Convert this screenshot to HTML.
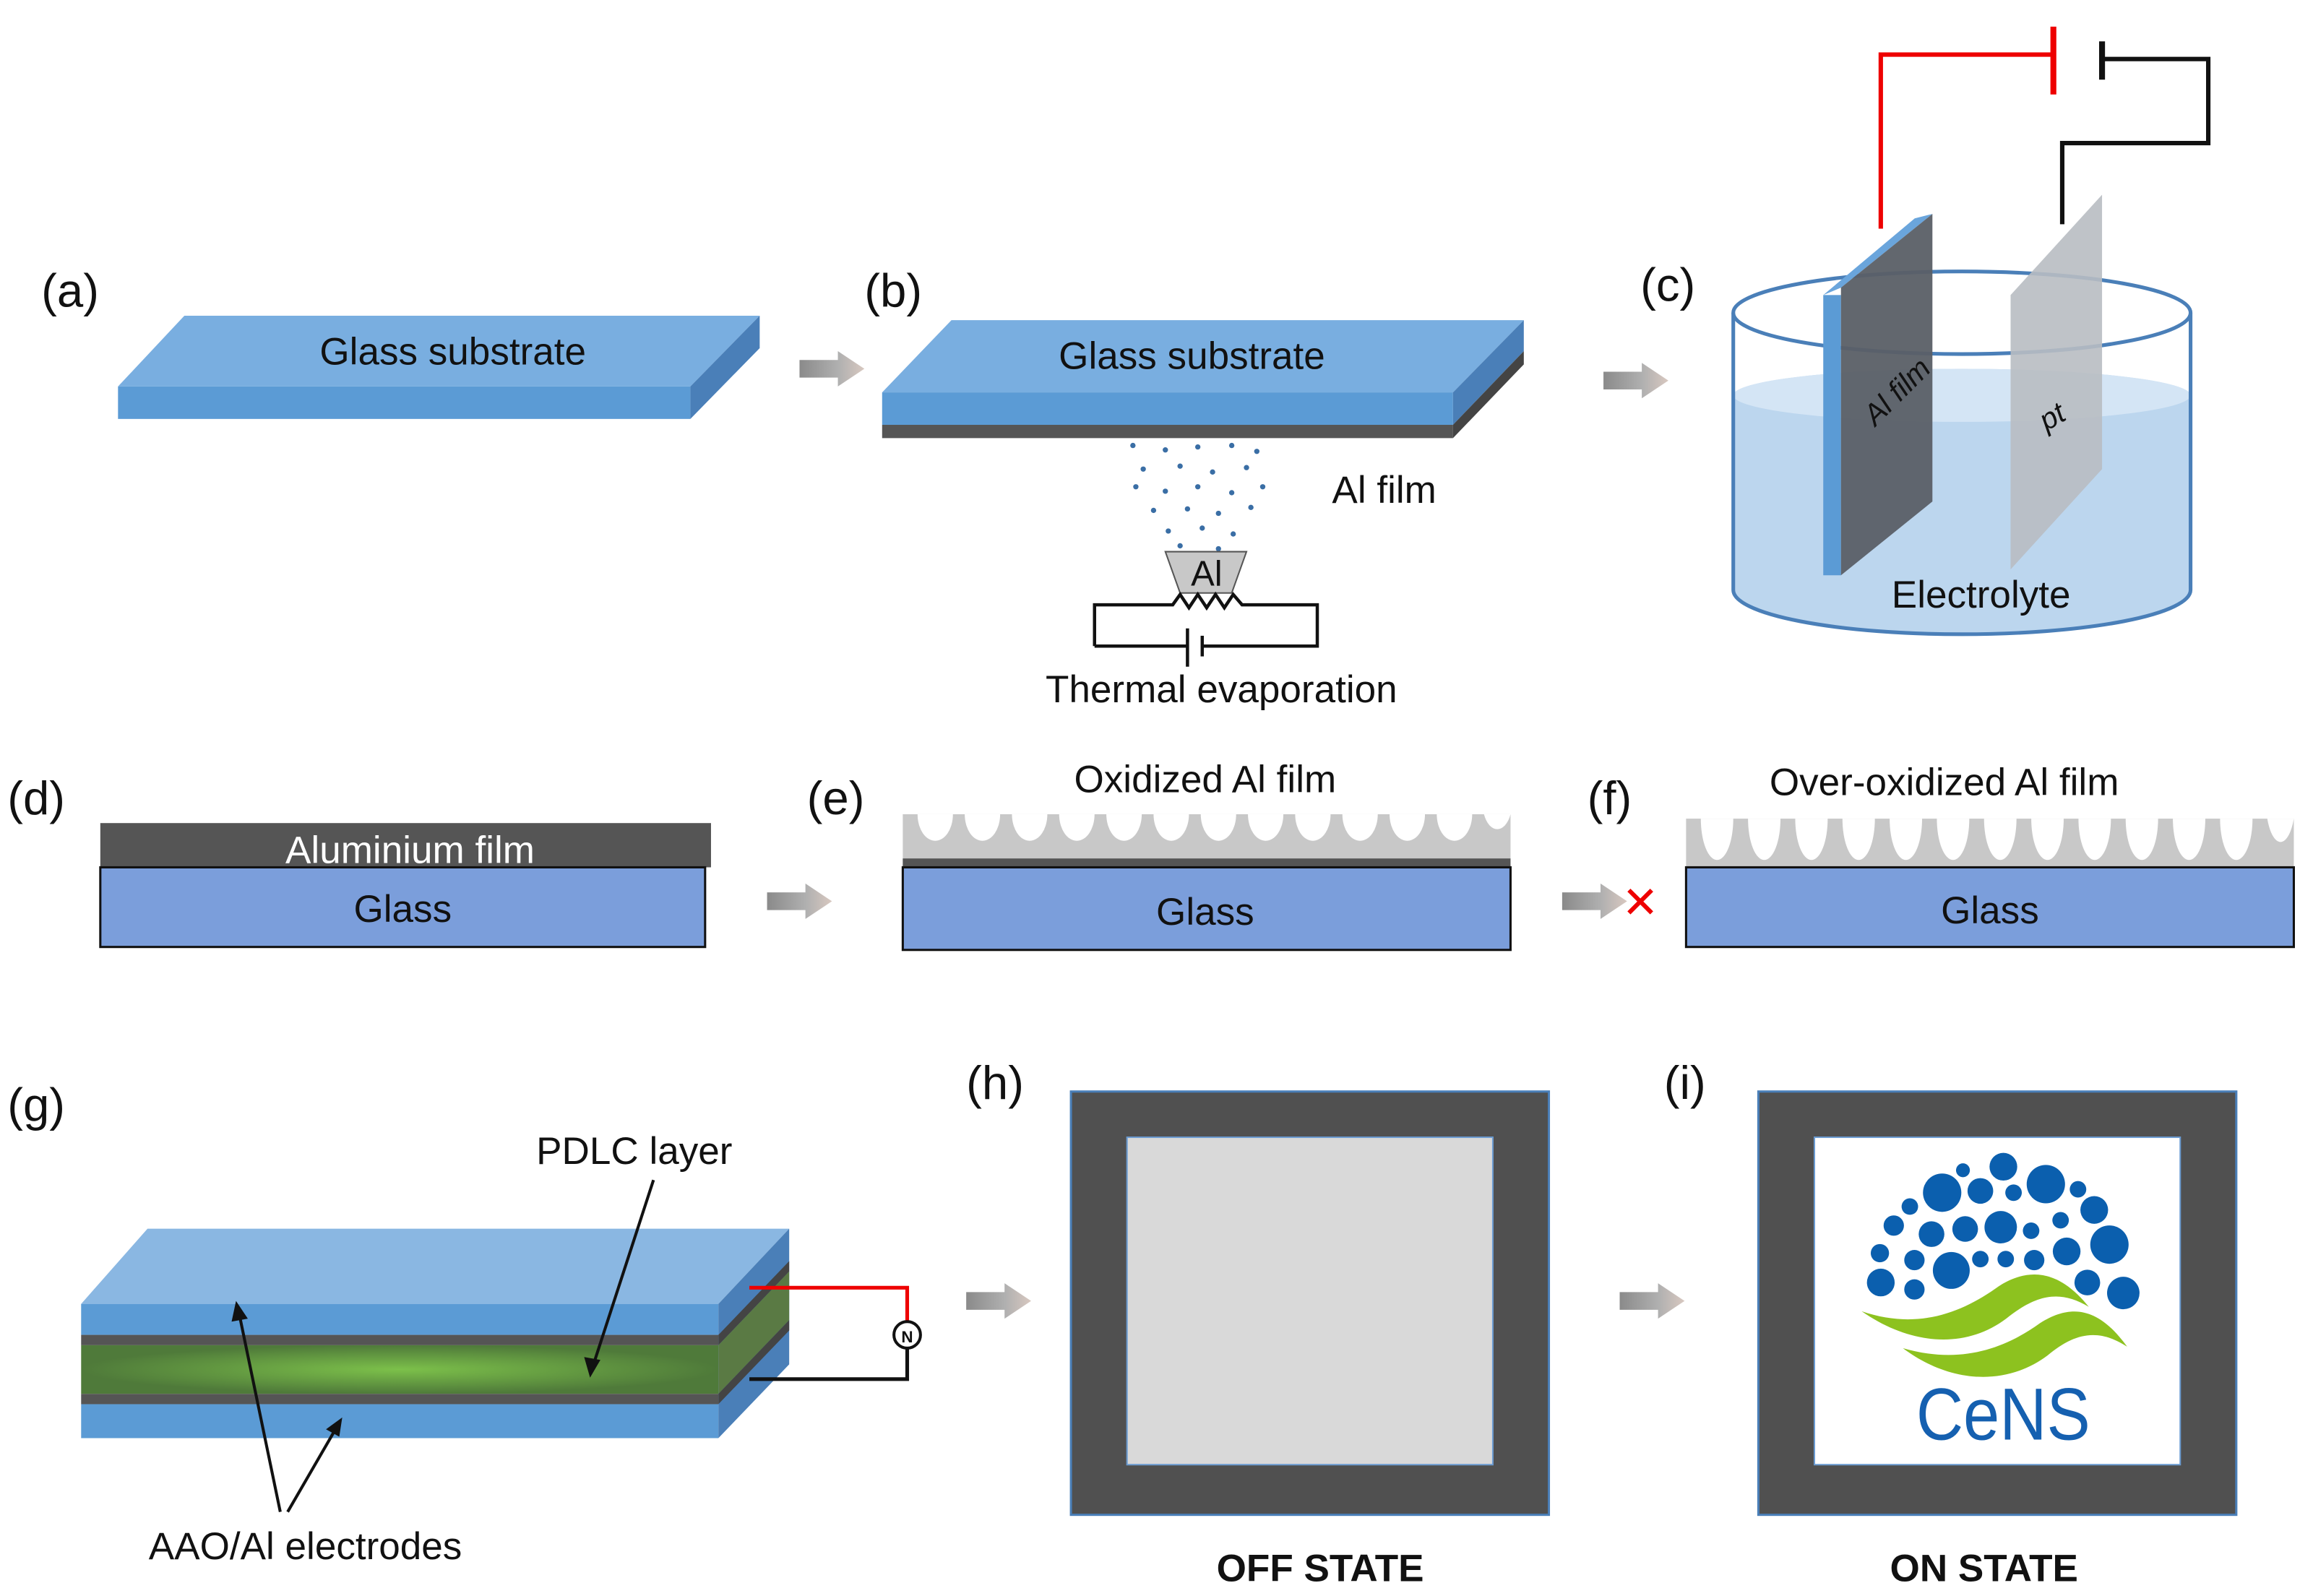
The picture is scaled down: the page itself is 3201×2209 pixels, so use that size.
<!DOCTYPE html>
<html><head><meta charset="utf-8"><style>html,body{margin:0;padding:0;background:#fff}svg{display:block}</style></head><body>
<svg width="3201" height="2209" viewBox="0 0 1568 1082" xmlns="http://www.w3.org/2000/svg" font-family="Liberation Sans, sans-serif">
<defs>
<linearGradient id="ar" x1="0" x2="1"><stop offset="0" stop-color="#8a8a8a"/><stop offset="0.6" stop-color="#b0b0b0"/><stop offset="1" stop-color="#d8c8c0"/></linearGradient>
<radialGradient id="gr" cx="0.5" cy="0.5" r="0.5"><stop offset="0" stop-color="#7cc04a"/><stop offset="1" stop-color="#4f7a3a"/></radialGradient>
<g id="arrow"><path d="M0,-6 L26,-6 L26,-12 L44,0 L26,12 L26,6 L0,6Z" fill="url(#ar)"/></g>
</defs>
<g font-size="27" fill="#111">
<g font-size="32">
<text x="28" y="208">(a)</text><text x="586" y="208">(b)</text><text x="1112" y="204">(c)</text>
<text x="5" y="552">(d)</text><text x="547" y="552">(e)</text><text x="1076" y="552">(f)</text>
<text x="5" y="760">(g)</text><text x="655" y="745">(h)</text><text x="1128" y="745">(i)</text>
</g>
<!-- (a) -->
<polygon points="80,262 125,214 515,214 468,262" fill="#79aee0"/>
<rect x="80" y="262" width="388" height="22" fill="#5b9bd5"/>
<polygon points="468,262 515,214 515,236 468,284" fill="#4a7fb8"/>
<text x="307" y="247" text-anchor="middle" font-size="26">Glass substrate</text>
<use href="#arrow" x="542" y="250"/>
<!-- (b) -->
<polygon points="598,266 645,217 1033,217 985,266" fill="#79aee0"/>
<rect x="598" y="266" width="387" height="22" fill="#5b9bd5"/>
<rect x="598" y="288" width="387" height="9" fill="#555"/>
<polygon points="985,266 1033,217 1033,238 985,288" fill="#4a7fb8"/>
<polygon points="985,288 1033,238 1033,247 985,297" fill="#444"/>
<text x="808" y="250" text-anchor="middle" font-size="26">Glass substrate</text>
<g fill="#3a6ea5">
<circle cx="768" cy="302" r="1.8"/><circle cx="790" cy="305" r="1.8"/><circle cx="812" cy="303" r="1.8"/><circle cx="835" cy="302" r="1.8"/><circle cx="852" cy="306" r="1.8"/>
<circle cx="775" cy="318" r="1.8"/><circle cx="800" cy="316" r="1.8"/><circle cx="822" cy="320" r="1.8"/><circle cx="845" cy="317" r="1.8"/>
<circle cx="770" cy="330" r="1.8"/><circle cx="790" cy="333" r="1.8"/><circle cx="812" cy="330" r="1.8"/><circle cx="835" cy="334" r="1.8"/><circle cx="856" cy="330" r="1.8"/>
<circle cx="782" cy="346" r="1.8"/><circle cx="805" cy="345" r="1.8"/><circle cx="826" cy="348" r="1.8"/><circle cx="848" cy="344" r="1.8"/>
<circle cx="792" cy="360" r="1.8"/><circle cx="815" cy="358" r="1.8"/><circle cx="836" cy="362" r="1.8"/><circle cx="800" cy="370" r="1.8"/><circle cx="826" cy="372" r="1.8"/>
</g>
<text x="903" y="341" font-size="26">Al film</text>
<polygon points="790,374 845,374 835,402 800,402" fill="#c8c8c8" stroke="#555" stroke-width="1"/>
<text x="818" y="397" text-anchor="middle" font-size="24">Al</text>
<polyline points="742,438 742,410 795,410 800,403 806,412 812,403 818,412 824,403 830,412 836,403 842,410 893,410 893,438 815,438" fill="none" stroke="#111" stroke-width="2.2"/>
<line x1="742" y1="438" x2="805" y2="438" stroke="#111" stroke-width="2.2"/>
<line x1="805" y1="426" x2="805" y2="452" stroke="#111" stroke-width="2.2"/>
<line x1="815" y1="431" x2="815" y2="445" stroke="#111" stroke-width="2.2"/>
<text x="828" y="476" text-anchor="middle" font-size="26">Thermal evaporation</text>
<use href="#arrow" x="1087" y="258"/>
<!-- (c) -->
<path d="M1175,268 A155,18 0 0 1 1485,268 L1485,400 A155,30 0 0 1 1175,400Z" fill="#bcd6ee"/>
<ellipse cx="1330" cy="268" rx="155" ry="18" fill="#d4e5f5"/>
<ellipse cx="1330" cy="212" rx="155" ry="28" fill="none" stroke="#4a7fb8" stroke-width="2.5"/>
<path d="M1175,212 L1175,400 A155,30 0 0 0 1485,400 L1485,212" fill="none" stroke="#4a7fb8" stroke-width="2.5"/>
<polygon points="1236,200 1298,148 1310,145 1248,195" fill="#6aa5dc"/>
<rect x="1236" y="200" width="12" height="190" fill="#5b9bd5"/>
<polygon points="1248,195 1310,145 1310,340 1248,390" fill="#5a5f66" opacity="0.95"/>
<polygon points="1363,200 1425,132 1425,318 1363,386" fill="#b8bcc2" opacity="0.9"/>
<text x="1280" y="290" font-size="20" font-style="italic" transform="rotate(-45 1275 300)" fill="#111">Al film</text>
<text x="1384" y="290" font-size="20" font-style="italic" transform="rotate(-30 1390 285)" fill="#111">pt</text>
<polyline points="1275,155 1275,37 1392,37" fill="none" stroke="#e00" stroke-width="3"/>
<line x1="1392" y1="18" x2="1392" y2="64" stroke="#e00" stroke-width="4"/>
<line x1="1425" y1="28" x2="1425" y2="54" stroke="#111" stroke-width="4"/>
<polyline points="1425,40 1497,40 1497,97 1398,97 1398,152" fill="none" stroke="#111" stroke-width="3"/>
<text x="1343" y="412" text-anchor="middle" font-size="26">Electrolyte</text>
<!-- (d) -->
<rect x="68" y="558" width="414" height="30" fill="#555"/>
<rect x="68" y="588" width="410" height="54" fill="#7b9edb" stroke="#111" stroke-width="1.5"/>
<text x="278" y="585" text-anchor="middle" font-size="26" fill="#fff">Aluminium film</text>
<text x="273" y="625" text-anchor="middle" font-size="26">Glass</text>
<use href="#arrow" x="520" y="611"/>
<!-- (e) -->
<text x="817" y="537" text-anchor="middle" font-size="26">Oxidized Al film</text>
<rect x="612" y="552" width="412" height="36" fill="#c8c8c8"/>
<rect x="612" y="582" width="412" height="6" fill="#555"/>
<g fill="#fff">
<path d="M622,552 a12,18 0 0 0 24,0Z"/><path d="M654,552 a12,18 0 0 0 24,0Z"/><path d="M686,552 a12,18 0 0 0 24,0Z"/><path d="M718,552 a12,18 0 0 0 24,0Z"/><path d="M750,552 a12,18 0 0 0 24,0Z"/><path d="M782,552 a12,18 0 0 0 24,0Z"/><path d="M814,552 a12,18 0 0 0 24,0Z"/><path d="M846,552 a12,18 0 0 0 24,0Z"/><path d="M878,552 a12,18 0 0 0 24,0Z"/><path d="M910,552 a12,18 0 0 0 24,0Z"/><path d="M942,552 a12,18 0 0 0 24,0Z"/><path d="M974,552 a12,18 0 0 0 24,0Z"/><path d="M1006,552 a10,18 0 0 0 18,0Z"/>
</g>
<rect x="612" y="588" width="412" height="56" fill="#7b9edb" stroke="#111" stroke-width="1.5"/>
<text x="817" y="627" text-anchor="middle" font-size="26">Glass</text>
<use href="#arrow" x="1059" y="611"/>
<text x="1112" y="622" text-anchor="middle" font-size="30" fill="#e00">✕</text>
<!-- (f) -->
<text x="1318" y="539" text-anchor="middle" font-size="26">Over-oxidized Al film</text>
<rect x="1143" y="555" width="412" height="33" fill="#c8c8c8"/>
<g fill="#fff">
<path d="M1153,555 a11,28 0 0 0 22,0Z"/><path d="M1185,555 a11,28 0 0 0 22,0Z"/><path d="M1217,555 a11,28 0 0 0 22,0Z"/><path d="M1249,555 a11,28 0 0 0 22,0Z"/><path d="M1281,555 a11,28 0 0 0 22,0Z"/><path d="M1313,555 a11,28 0 0 0 22,0Z"/><path d="M1345,555 a11,28 0 0 0 22,0Z"/><path d="M1377,555 a11,28 0 0 0 22,0Z"/><path d="M1409,555 a11,28 0 0 0 22,0Z"/><path d="M1441,555 a11,28 0 0 0 22,0Z"/><path d="M1473,555 a11,28 0 0 0 22,0Z"/><path d="M1505,555 a11,28 0 0 0 22,0Z"/><path d="M1537,555 a10,28 0 0 0 18,0Z"/>
</g>
<rect x="1143" y="588" width="412" height="54" fill="#7b9edb" stroke="#111" stroke-width="1.5"/>
<text x="1349" y="626" text-anchor="middle" font-size="26">Glass</text>
<!-- (g) -->
<polygon points="55,884 100,833 535,833 487,884" fill="#8ab7e2"/>
<rect x="55" y="884" width="432" height="21" fill="#5b9bd5"/>
<rect x="55" y="905" width="432" height="7" fill="#555"/>
<rect x="55" y="912" width="432" height="33" fill="url(#gr)"/>
<rect x="55" y="945" width="432" height="7" fill="#555"/>
<rect x="55" y="952" width="432" height="23" fill="#5b9bd5"/>
<polygon points="487,884 535,833 535,925 487,975" fill="#4a7fb8"/>
<polygon points="487,905 535,855 535,862 487,912" fill="#444"/>
<polygon points="487,912 535,862 535,895 487,945" fill="#5a7a44"/>
<polygon points="487,945 535,895 535,902 487,952" fill="#444"/>
<polyline points="508,873 615,873 615,896" fill="none" stroke="#e00" stroke-width="2.5"/>
<polyline points="615,914 615,935 508,935" fill="none" stroke="#111" stroke-width="2.5"/>
<circle cx="615" cy="905" r="9" fill="#fff" stroke="#111" stroke-width="2"/>
<text x="615" y="910" text-anchor="middle" font-size="11" font-weight="bold">N</text>
<text x="430" y="789" text-anchor="middle" font-size="26">PDLC layer</text>
<line x1="443" y1="800" x2="402" y2="926" stroke="#111" stroke-width="2"/><polygon points="400,934 396,920 407,922" fill="#111"/>
<text x="207" y="1057" text-anchor="middle" font-size="26">AAO/Al electrodes</text>
<line x1="190" y1="1025" x2="162" y2="890" stroke="#111" stroke-width="2"/><polygon points="160,882 157,896 168,894" fill="#111"/>
<line x1="195" y1="1025" x2="228" y2="968" stroke="#111" stroke-width="2"/><polygon points="232,961 221,969 230,974" fill="#111"/>
<use href="#arrow" x="655" y="882"/>
<!-- (h) -->
<rect x="726" y="740" width="324" height="287" fill="#505050" stroke="#4a7fb8" stroke-width="1.5"/>
<rect x="764" y="771" width="248" height="222" fill="#d9d9d9" stroke="#6a9ad0" stroke-width="1"/>
<text x="895" y="1072" text-anchor="middle" font-size="26" font-weight="bold">OFF STATE</text>
<use href="#arrow" x="1098" y="882"/>
<!-- (i) -->
<rect x="1192" y="740" width="324" height="287" fill="#505050" stroke="#4a7fb8" stroke-width="1.5"/>
<rect x="1230" y="771" width="248" height="222" fill="#fff" stroke="#6a9ad0" stroke-width="1"/>
<g fill="#0b5fae">
<circle cx="1316.6" cy="808.6" r="13"/><circle cx="1358.1" cy="791" r="9.4"/><circle cx="1386.9" cy="802.8" r="13"/><circle cx="1342.5" cy="807.4" r="8.7"/><circle cx="1365" cy="808.6" r="5.6"/><circle cx="1330.7" cy="793.4" r="4.7"/><circle cx="1408.7" cy="806.3" r="5.6"/><circle cx="1419.7" cy="820.3" r="9.4"/><circle cx="1294.7" cy="818" r="5.6"/><circle cx="1283.8" cy="830.9" r="6.9"/><circle cx="1309.4" cy="836.7" r="8.7"/><circle cx="1332.2" cy="833.2" r="8.7"/><circle cx="1356.3" cy="832" r="11"/><circle cx="1376.9" cy="834.4" r="5.6"/><circle cx="1396.9" cy="827.3" r="5.6"/><circle cx="1430" cy="843.8" r="13"/><circle cx="1401" cy="848.4" r="9.4"/><circle cx="1274.4" cy="849.6" r="6.2"/><circle cx="1297.8" cy="854.3" r="6.9"/><circle cx="1322.8" cy="861.3" r="12.5"/><circle cx="1342.5" cy="853.6" r="5.6"/><circle cx="1359.7" cy="853.6" r="5.6"/><circle cx="1379" cy="854.3" r="6.9"/><circle cx="1275" cy="869.5" r="9.4"/><circle cx="1297.8" cy="874.2" r="6.9"/><circle cx="1415" cy="869.5" r="8.7"/><circle cx="1439.4" cy="876.6" r="11"/>
</g>
<g fill="#8dc21f">
<path d="M1262,889 C1300,902 1330,890 1355,872 C1380,856 1400,866 1416,886 C1396,874 1380,878 1360,894 C1332,915 1295,912 1262,889Z"/>
<path d="M1290,914 C1328,925 1358,915 1383,897 C1408,881 1426,891 1442,913 C1422,900 1406,904 1388,919 C1360,940 1322,938 1290,914Z"/>
</g>
<text x="1299" y="976" font-size="50" fill="#1560b0" textLength="118" lengthAdjust="spacingAndGlyphs">CeNS</text>
<text x="1345" y="1072" text-anchor="middle" font-size="26" font-weight="bold">ON STATE</text>
</g>
</svg>
</body></html>
